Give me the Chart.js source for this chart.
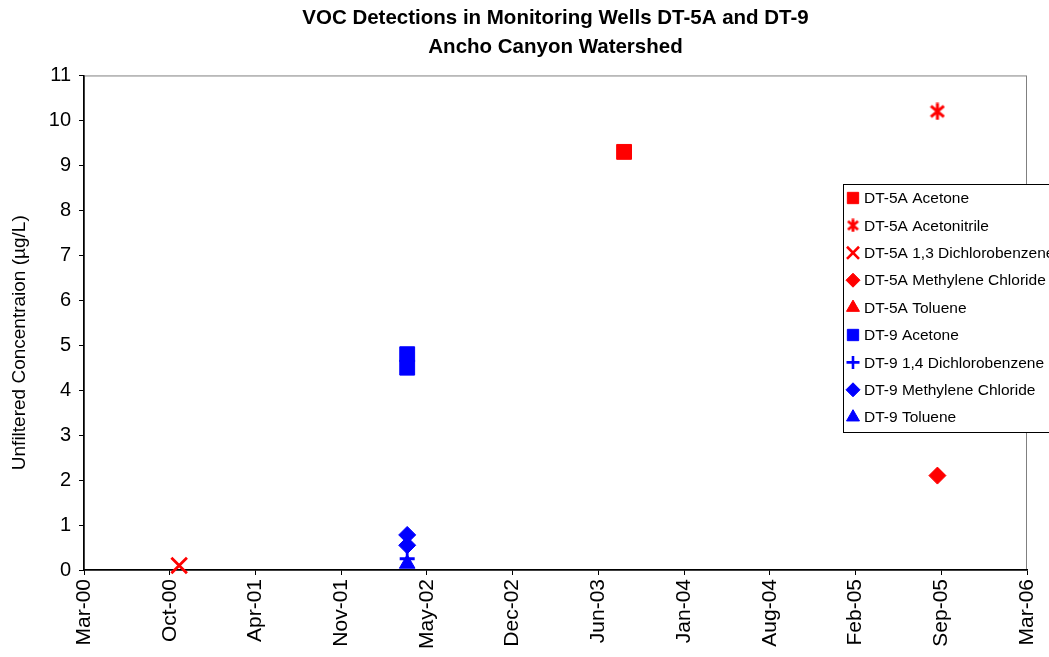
<!DOCTYPE html>
<html>
<head>
<meta charset="utf-8">
<script src="https://cdn.jsdelivr.net/npm/chart.js@4/dist/chart.umd.min.js"></script>
<style>
  html, body { margin: 0; padding: 0; background: #fff; }
  #wrap { width: 1049px; height: 657px; }
</style>
</head>
<body>
<div id="wrap"><canvas id="vocChart"></canvas></div>
<script>
// sample dates (yyyy-mm-dd) and concentrations, ug/L
const dt5aAcetoneDates = ['2003-08-27'];
const dt5aAcetone = [9.3];
const dt5aAcetonitrileDates = ['2005-08-27'];
const dt5aAcetonitrile = [10.2];
const dt5aDcb13Dates = ['2000-10-23'];
const dt5aDcb13 = [0.1];
const dt5aMeClDates = ['2005-08-27'];
const dt5aMeCl = [2.1];
const dt5aTolueneDates = [];
const dt5aToluene = [];
const dt9AcetoneDates = ['2002-04-08', '2002-04-08'];
const dt9Acetone = [4.8, 4.5];
const dt9Dcb14Dates = ['2002-04-08'];
const dt9Dcb14 = [0.25];
const dt9MeClDates = ['2002-04-08', '2002-04-08'];
const dt9MeCl = [0.78, 0.55];
const dt9TolueneDates = ['2002-04-08'];
const dt9Toluene = [0.14];

const xStart = '2000-03-15';
const xEnd = '2006-03-24';
const xStepDays = 200;
const monthNames = ['Jan','Feb','Mar','Apr','May','Jun','Jul','Aug','Sep','Oct','Nov','Dec'];
const yTitle = 'Unfiltered Concentraion (µg/L)';

const DAY = 86400000;
const RED = '#ff0000';
const BLUE = '#0000ff';
const FONT = '"Liberation Sans", Arial, sans-serif';

function toMs(d) { return Date.parse(d + 'T00:00:00Z'); }
function pts(dates, vals) {
    return dates.map((d, i) => ({x: toMs(d), y: vals[i]}));
}

// Excel style asterisk: vertical bar plus an X
function asterisk(w, h, lw) {
    const c = document.createElement('canvas');
    c.width = w; c.height = h;
    const g = c.getContext('2d');
    g.strokeStyle = RED;
    g.lineWidth = lw;
    g.beginPath();
    g.moveTo(w / 2, 0.5); g.lineTo(w / 2, h - 0.5);
    g.moveTo(1.5, h * 0.2); g.lineTo(w - 1.5, h * 0.8);
    g.moveTo(w - 1.5, h * 0.2); g.lineTo(1.5, h * 0.8);
    g.stroke();
    return c;
}
const starBig = asterisk(16, 18, 3);
const starSmall = asterisk(13, 14, 2.8);

function series(label, data, color, style, radius, bw, legendStyle, legendRadius) {
    return {
        label: label, data: data,
        backgroundColor: color, borderColor: color,
        pointStyle: style, pointRadius: radius, pointBorderWidth: bw,
        pointHoverRadius: radius, showLine: false,
        legendStyle: legendStyle || style, legendRadius: legendRadius
    };
}

const datasets = [
    series('DT-5A Acetone', pts(dt5aAcetoneDates, dt5aAcetone), RED, 'rect', 10.5, 1, 'rect', 8),
    series('DT-5A Acetonitrile', pts(dt5aAcetonitrileDates, dt5aAcetonitrile), RED, starBig, 9, 1, starSmall, 6),
    series('DT-5A 1,3 Dichlorobenzene', pts(dt5aDcb13Dates, dt5aDcb13), RED, 'crossRot', 11, 2.8, 'crossRot', 8.5),
    series('DT-5A Methylene Chloride', pts(dt5aMeClDates, dt5aMeCl), RED, 'rectRot', 8.5, 1, 'rectRot', 7),
    series('DT-5A Toluene', pts(dt5aTolueneDates, dt5aToluene), RED, 'triangle', 9, 1, 'triangle', 7.5),
    series('DT-9 Acetone', pts(dt9AcetoneDates, dt9Acetone), BLUE, 'rect', 10.5, 1, 'rect', 8),
    series('DT-9 1,4 Dichlorobenzene', pts(dt9Dcb14Dates, dt9Dcb14), BLUE, 'cross', 7.5, 2.8, 'cross', 6.5),
    series('DT-9 Methylene Chloride', pts(dt9MeClDates, dt9MeCl), BLUE, 'rectRot', 8.5, 1, 'rectRot', 7),
    series('DT-9 Toluene', pts(dt9TolueneDates, dt9Toluene), BLUE, 'triangle', 9, 1, 'triangle', 7.5)
];

// gray frame around the plot, axes draw black over the left and bottom sides
const plotFrame = {
    id: 'plotFrame',
    beforeDraw(chart) {
        const {ctx, chartArea: a} = chart;
        ctx.save();
        ctx.fillStyle = '#fff';
        ctx.fillRect(0, 0, chart.width, chart.height);
        ctx.strokeStyle = '#808080';
        ctx.lineWidth = 1;
        ctx.strokeRect(a.left + 0.5, a.top + 0.5, a.right - a.left - 1, a.bottom - a.top);
        ctx.restore();
    }
};

// y axis title, centred a bit below the middle of the plot like the original
const yTitlePlugin = {
    id: 'yTitlePlugin',
    afterDraw(chart) {
        const {ctx, chartArea: a} = chart;
        ctx.save();
        ctx.translate(20, (a.top + a.bottom) / 2 + 20);
        ctx.rotate(-Math.PI / 2);
        ctx.font = '19px ' + FONT;
        ctx.fillStyle = '#000';
        ctx.textAlign = 'center';
        ctx.textBaseline = 'middle';
        ctx.fillText(yTitle, 0, 0);
        ctx.restore();
    }
};

// boxed legend sitting over the right edge of the plot
const boxLegend = {
    id: 'boxLegend',
    afterDraw(chart) {
        const ctx = chart.ctx;
        const x0 = 843.5, y0 = 184.5, w = 240, h = 248;
        ctx.save();
        ctx.fillStyle = '#fff';
        ctx.fillRect(x0, y0, w, h);
        ctx.strokeStyle = '#000';
        ctx.lineWidth = 1;
        ctx.strokeRect(x0, y0, w, h);
        ctx.font = '15.5px ' + FONT;
        ctx.textBaseline = 'middle';
        chart.data.datasets.forEach((ds, i) => {
            const y = 198 + i * 27.4;
            ctx.fillStyle = ds.backgroundColor;
            ctx.strokeStyle = ds.borderColor;
            ctx.lineWidth = ds.pointBorderWidth > 1 ? 2.6 : 1;
            Chart.helpers.drawPoint(ctx, {
                pointStyle: ds.legendStyle, radius: ds.legendRadius,
                borderWidth: ctx.lineWidth, rotation: 0
            }, 853, y);
            ctx.fillStyle = '#000';
            ctx.fillText(ds.label, 864, y + 1);
        });
        ctx.restore();
    }
};

const vocChart = new Chart('vocChart', {
    type: 'scatter',
    data: {datasets: datasets},
    plugins: [plotFrame, yTitlePlugin, boxLegend],
    options: {
        responsive: true,
        maintainAspectRatio: false,
        animation: false,
        clip: false,
        layout: {padding: {left: 0, right: 22, top: 0, bottom: 0}},
        plugins: {
            legend: {display: false},
            tooltip: {enabled: false},
            title: {
                display: true,
                fullSize: false,
                text: ['VOC Detections in Monitoring Wells DT-5A and DT-9', 'Ancho Canyon Watershed'],
                color: '#000',
                font: {family: FONT, size: 20.5, weight: 'bold', lineHeight: 1.45},
                padding: {top: 3, bottom: 13}
            }
        },
        scales: {
            x: {
                type: 'linear',
                min: toMs(xStart),
                max: toMs(xEnd),
                grid: {drawOnChartArea: false, color: '#000', tickLength: 5},
                border: {color: '#000', width: 1.5},
                ticks: {
                    stepSize: xStepDays * DAY,
                    autoSkip: false,
                    minRotation: 90,
                    maxRotation: 90,
                    padding: 4,
                    color: '#000',
                    font: {family: FONT, size: 21},
                    callback: v => {
                        const d = new Date(v + DAY / 2);
                        return monthNames[d.getUTCMonth()] + '-' + String(d.getUTCFullYear()).slice(2);
                    }
                },
                afterFit: s => { s.height = 87; s.paddingLeft = 0; s.paddingRight = 0; }
            },
            y: {
                min: 0,
                max: 11,
                grid: {drawOnChartArea: false, color: '#000', tickLength: 5},
                border: {color: '#000', width: 1.5},
                ticks: {stepSize: 1, padding: 8, color: '#000', font: {family: FONT, size: 20}},
                afterFit: s => { s.width = 84; }
            }
        }
    }
});
</script>
</body>
</html>
